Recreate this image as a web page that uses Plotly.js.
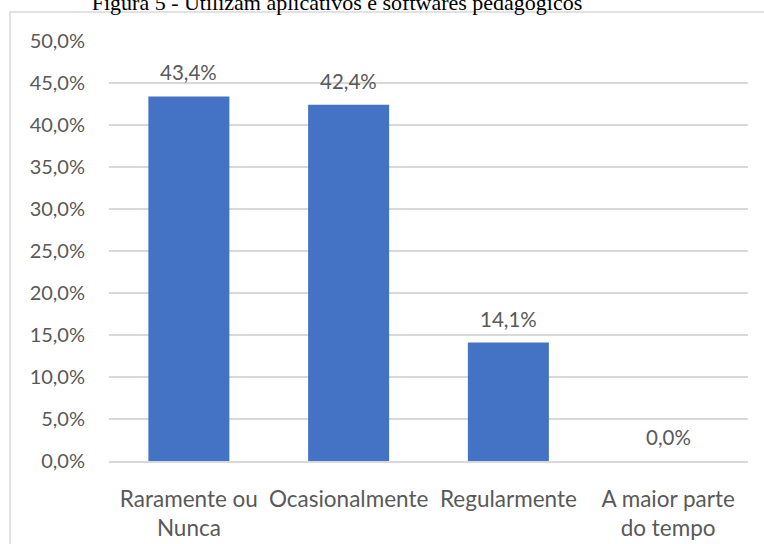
<!DOCTYPE html>
<html>
<head>
<meta charset="utf-8">
<script src="https://cdn.plot.ly/plotly-3.0.1.min.js"></script>
<style>html,body{margin:0;padding:0;background:#fff;}#chart{width:764px;height:544px;}</style>
</head>
<body>
<div id="chart"></div>
<script>
const categories = ["Raramente ou<br>Nunca", "Ocasionalmente", "Regularmente", "A maior parte<br>do tempo"];
const values = [43.4, 42.4, 14.1, 0.0];
const valueLabels = ["43,4%", "42,4%", "14,1%", "0,0%"];
const tickValues = [0, 5, 10, 15, 20, 25, 30, 35, 40, 45, 50];
const tickLabels = ["0,0%", "5,0%", "10,0%", "15,0%", "20,0%", "25,0%", "30,0%", "35,0%", "40,0%", "45,0%", "50,0%"];
const titleText = "Figura 5 - Utilizam aplicativos e softwares pedagógicos";

const textColor = "#595959";
const gridColor = "#D9D9D9";

const trace = {
  type: "bar",
  x: categories,
  y: values,
  marker: { color: "#4472C4", line: { width: 0 } },
  hoverinfo: "none"
};

const annotations = categories.map((c, i) => ({
  x: c, y: values[i], xref: "x", yref: "y",
  text: valueLabels[i], showarrow: false,
  yanchor: "middle", yshift: 24,
  font: { family: "Lato, sans-serif", size: 20.5, color: textColor }
}));

const layout = {
  width: 764, height: 544,
  margin: { l: 109, r: 16, t: 41, b: 83 },
  paper_bgcolor: "#ffffff", plot_bgcolor: "#ffffff",
  showlegend: false,
  bargap: 0.493,
  title: {
    text: titleText,
    font: { family: "Liberation Serif, Times New Roman, serif", size: 22, color: "#000000" },
    xref: "container", yref: "container",
    x: 337 / 764, xanchor: "center",
    y: 1 - 2 / 544, yanchor: "middle"
  },
  xaxis: {
    type: "category",
    showgrid: false,
    showline: true, linecolor: gridColor, linewidth: 1.5,
    ticks: "",
    ticklabelstandoff: 17,
    tickfont: { family: "Lato, sans-serif", size: 22.5, color: textColor },
    fixedrange: true
  },
  yaxis: {
    range: [0, 50],
    tickvals: tickValues,
    ticktext: tickLabels,
    showgrid: true, gridcolor: gridColor, gridwidth: 1.5,
    zeroline: false, showline: false,
    ticks: "",
    ticklabelstandoff: 23,
    tickfont: { family: "Lato, sans-serif", size: 20, color: textColor },
    fixedrange: true
  },
  annotations: annotations,
  shapes: [{
    type: "rect", xref: "paper", yref: "paper",
    x0: (10 - 109) / 639, x1: (780 - 109) / 639,
    y0: (461 - 560) / 420, y1: (461 - 12) / 420,
    line: { color: gridColor, width: 1.5 },
    fillcolor: "rgba(0,0,0,0)",
    layer: "below"
  }]
};

Plotly.newPlot("chart", [trace], layout, { staticPlot: true, displayModeBar: false });
</script>
</body>
</html>
